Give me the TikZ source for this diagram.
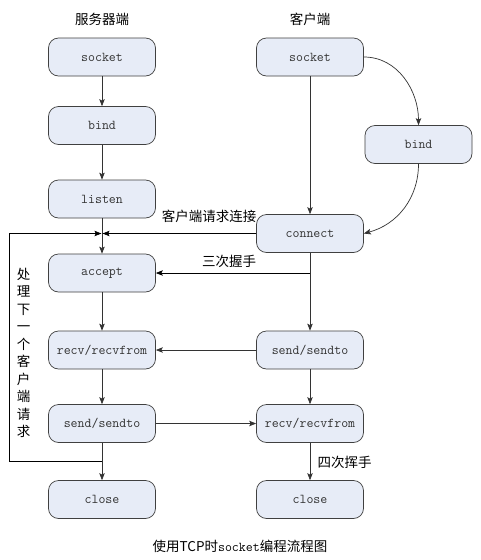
\documentclass[tikz,border=0pt]{standalone}
\usepackage{fontspec}
\newfontfamily\cjk{Noto Sans CJK SC}
\usetikzlibrary{arrows.meta}
\tikzset{
  box/.style={draw=black!75, fill=boxfill, rounded corners=10pt, line width=0.7pt,
    minimum width=107pt, minimum height=38pt, inner sep=0pt,
    font=\fontsize{13.5}{15}\ttfamily, text=black!80},
  conn/.style={line width=0.7pt, draw=black!80},
  arr/.style={conn, -{Stealth[length=7pt,width=5.5pt,inset=1.5pt]}},
  lab/.style={font=\fontsize{13.5}{15}\cjk, inner sep=0pt}
}
\definecolor{boxfill}{HTML}{E7ECF7}
\begin{document}
\begin{tikzpicture}[x=1pt,y=-1pt]
\useasboundingbox[fill=white] (0,0) rectangle (481,560);
% headers
\node[lab] (hs) at (102,19) {服务器端};
\node[lab] (hc) at (310,19) {客户端};
% server column
\node[box] (ssock) at (102,57) {socket};
\node[box] (sbind) at (102,125.5) {bind};
\node[box] (slist) at (102,199) {listen};
\node[box] (sacc) at (102,273) {accept};
\node[box] (srecv) at (102,350) {recv/recvfrom};
\node[box] (ssend) at (102,423.5) {send/sendto};
\node[box] (sclose) at (102,499.5) {close};
% client column
\node[box] (csock) at (310,57) {socket};
\node[box] (cbind) at (418.5,144.5) {bind};
\node[box] (cconn) at (310,233.5) {connect};
\node[box] (csend) at (310,350) {send/sendto};
\node[box] (crecv) at (310,423.5) {recv/recvfrom};
\node[box] (cclose) at (310,499.5) {close};
% helper coordinates
\coordinate (J) at (102,233.5);
\coordinate (H) at (310,273);
\coordinate (L1) at (102,461.5);
\coordinate (L2) at (9.5,461.5);
\coordinate (L3) at (9.5,233.5);
% server arrows
\draw[arr] (ssock) -- (sbind);
\draw[arr] (sbind) -- (slist);
\draw[arr] (slist) -- (sacc);
\draw[arr] (sacc) -- (srecv);
\draw[arr] (srecv) -- (ssend);
\draw[arr] (ssend) -- (sclose);
% loop
\draw[arr,draw=black] (L1) -- (L2) -- (L3) -- ([xshift=-0.6pt]J);
% client arrows
\draw[arr] (csock) -- (cconn);
\draw[arr] (csock.east) to[out=0,in=90] (cbind.north);
\draw[arr] (cbind.south) to[out=-90,in=15] (cconn.east);
\draw[arr] (cconn) -- (csend);
\draw[arr] (csend) -- (crecv);
\draw[arr] (crecv) -- (cclose);
% cross arrows
\draw[arr,draw=black] (cconn.west) -- ([xshift=0.6pt]J);
\draw[arr,draw=black] (H) -- (sacc.east);
\draw[arr] (csend.west) -- (srecv.east);
\draw[arr] (ssend.east) -- (crecv.west);
% labels
\node[lab] (l1) at (209,216.5) {客户端请求连接};
\node[lab] (l2) at (229,261.5) {三次握手};
\node[lab,anchor=west] (l3) at (317.5,462) {四次挥手};
\node[lab,align=center,font=\fontsize{13.5}{17.5}\cjk] (l4) at (23.5,353) {处\\理\\下\\一\\个\\客\\户\\端\\请\\求};
\node[lab] (cap) at (240,546) {使用TCP时{\fontsize{13.5}{15}\ttfamily socket}编程流程图};
\end{tikzpicture}
\end{document}
